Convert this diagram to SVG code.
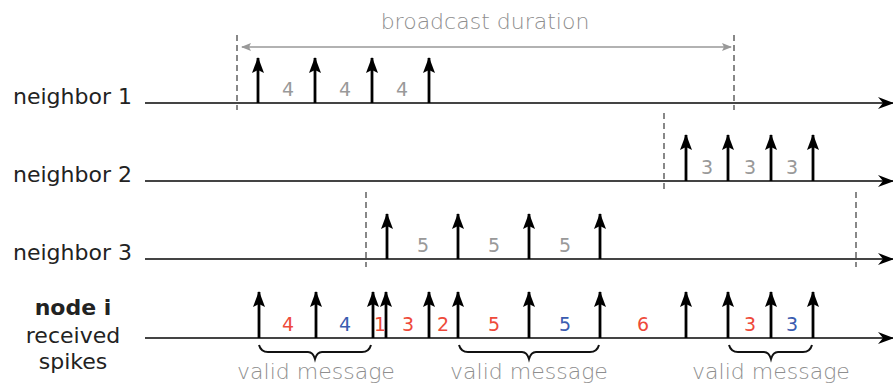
<svg xmlns="http://www.w3.org/2000/svg" width="893" height="383" viewBox="0 0 893 383">
  <style>
    .lbl { font-family: "DejaVu Sans", Verdana, sans-serif; font-size: 22px; fill: #222; }
    .gray { font-family: "DejaVu Sans", Verdana, sans-serif; font-size: 22px; font-weight: 200; fill: #8e8e8e; text-anchor: middle; }
    .num { font-family: "DejaVu Sans", Verdana, sans-serif; font-size: 19px; text-anchor: middle; }
    .g { fill: #999; }
    .r { fill: #ee4a3a; }
    .b { fill: #3a5cb0; }
    .axis { stroke: #444; stroke-width: 2; fill: none; }
    .spike { stroke: #000; stroke-width: 2.8; fill: none; }
    .dash { stroke: #888; stroke-width: 2; stroke-dasharray: 6 4; fill: none; }
    .brace { stroke: #111; stroke-width: 2; fill: none; }
  </style>
  <defs>
    <!-- spike arrowhead, drawn along +x so orient="auto" points it up the stem -->
    <marker id="tip" viewBox="0 0 16 12" refX="15" refY="6" markerWidth="16" markerHeight="12" markerUnits="userSpaceOnUse" orient="auto">
      <path d="M0,0 L16,6 L0,12 L3,6 Z" fill="#000"/>
    </marker>
    <marker id="axhead" viewBox="0 0 16 12" refX="15" refY="6" markerWidth="16" markerHeight="12" markerUnits="userSpaceOnUse" orient="auto">
      <path d="M0,0 L16,6 L0,12 L5,6 Z" fill="#000"/>
    </marker>
    <marker id="garr" viewBox="0 0 10 8" refX="9" refY="4" markerWidth="10" markerHeight="8" markerUnits="userSpaceOnUse" orient="auto-start-reverse">
      <path d="M0,0 L10,4 L0,8 L2,4 Z" fill="#999"/>
    </marker>
  </defs>

  <!-- row labels -->
  <g id="label-neighbor1"><text class="lbl" x="13" y="104">neighbor 1</text></g>
  <g id="label-neighbor2"><text class="lbl" x="13" y="182">neighbor 2</text></g>
  <g id="label-neighbor3"><text class="lbl" x="13" y="260">neighbor 3</text></g>
  <g id="label-node-i">
    <text class="lbl" x="73" y="315" text-anchor="middle" font-weight="bold">node i</text>
    <text class="lbl" x="73" y="343" text-anchor="middle">received</text>
    <text class="lbl" x="73" y="369" text-anchor="middle">spikes</text>
  </g>

  <!-- broadcast duration -->
  <g id="broadcast">
    <text class="gray" x="485" y="29">broadcast duration</text>
    <path d="M242,47 H731" stroke="#999" stroke-width="1.5" marker-start="url(#garr)" marker-end="url(#garr)"/>
  </g>

  <!-- time axes -->
  <g id="axes">
    <path class="axis" d="M145,103 H893" marker-end="url(#axhead)"/>
    <path class="axis" d="M145,181 H893" marker-end="url(#axhead)"/>
    <path class="axis" d="M145,259 H893" marker-end="url(#axhead)"/>
    <path class="axis" d="M145,338 H893" marker-end="url(#axhead)"/>
  </g>

  <!-- broadcast window boundaries -->
  <g id="windows">
    <path class="dash" d="M237,35 V110"/>
    <path class="dash" d="M734,35 V110"/>
    <path class="dash" d="M664,113 V189"/>
    <path class="dash" d="M366,192 V267"/>
    <path class="dash" d="M856,192 V267"/>
  </g>

  <!-- neighbor 1 spikes -->
  <g id="neighbor1">
    <path class="spike" d="M258,103 V58" marker-end="url(#tip)"/>
    <path class="spike" d="M315,103 V58" marker-end="url(#tip)"/>
    <path class="spike" d="M372,103 V58" marker-end="url(#tip)"/>
    <path class="spike" d="M429,103 V58" marker-end="url(#tip)"/>
    <text class="num g" x="288" y="96">4</text>
    <text class="num g" x="345" y="96">4</text>
    <text class="num g" x="402" y="96">4</text>
  </g>

  <!-- neighbor 2 spikes -->
  <g id="neighbor2">
    <path class="spike" d="M686,181 V135" marker-end="url(#tip)"/>
    <path class="spike" d="M728,181 V135" marker-end="url(#tip)"/>
    <path class="spike" d="M771,181 V135" marker-end="url(#tip)"/>
    <path class="spike" d="M813,181 V135" marker-end="url(#tip)"/>
    <text class="num g" x="707" y="174">3</text>
    <text class="num g" x="750" y="174">3</text>
    <text class="num g" x="792" y="174">3</text>
  </g>

  <!-- neighbor 3 spikes -->
  <g id="neighbor3">
    <path class="spike" d="M387,259 V214" marker-end="url(#tip)"/>
    <path class="spike" d="M458,259 V214" marker-end="url(#tip)"/>
    <path class="spike" d="M529,259 V214" marker-end="url(#tip)"/>
    <path class="spike" d="M600,259 V214" marker-end="url(#tip)"/>
    <text class="num g" x="423" y="252">5</text>
    <text class="num g" x="494" y="252">5</text>
    <text class="num g" x="565" y="252">5</text>
  </g>

  <!-- node i merged spike train -->
  <g id="node-i">
    <path class="spike" d="M259,338 V292" marker-end="url(#tip)"/>
    <path class="spike" d="M316,338 V292" marker-end="url(#tip)"/>
    <path class="spike" d="M373,338 V292" marker-end="url(#tip)"/>
    <path class="spike" d="M386,338 V292" marker-end="url(#tip)"/>
    <path class="spike" d="M429,338 V292" marker-end="url(#tip)"/>
    <path class="spike" d="M458,338 V292" marker-end="url(#tip)"/>
    <path class="spike" d="M529,338 V292" marker-end="url(#tip)"/>
    <path class="spike" d="M600,338 V292" marker-end="url(#tip)"/>
    <path class="spike" d="M686,338 V292" marker-end="url(#tip)"/>
    <path class="spike" d="M728,338 V292" marker-end="url(#tip)"/>
    <path class="spike" d="M771,338 V292" marker-end="url(#tip)"/>
    <path class="spike" d="M813,338 V292" marker-end="url(#tip)"/>
    <text class="num r" x="288" y="331">4</text>
    <text class="num b" x="345" y="331">4</text>
    <text class="num r" x="380" y="331">1</text>
    <text class="num r" x="408" y="331">3</text>
    <text class="num r" x="443" y="331">2</text>
    <text class="num r" x="494" y="331">5</text>
    <text class="num b" x="565" y="331">5</text>
    <text class="num r" x="643" y="331">6</text>
    <text class="num r" x="750" y="331">3</text>
    <text class="num b" x="792" y="331">3</text>
  </g>

  <!-- valid message braces -->
  <g id="valid1">
    <path class="brace" d="M259,345 Q261,352 268,352 H308 Q313,352 315,359 Q317,352 322,352 H362 Q369,352 371,345"/>
    <text class="gray" x="316" y="379">valid message</text>
  </g>
  <g id="valid2">
    <path class="brace" d="M459,345 Q461,352 468,352 H522 Q527,352 529,359 Q531,352 536,352 H590 Q597,352 599,345"/>
    <text class="gray" x="529" y="379">valid message</text>
  </g>
  <g id="valid3">
    <path class="brace" d="M729,345 Q731,352 738,352 H764 Q769,352 771,359 Q773,352 778,352 H803 Q810,352 812,345"/>
    <text class="gray" x="771" y="379">valid message</text>
  </g>
</svg>
